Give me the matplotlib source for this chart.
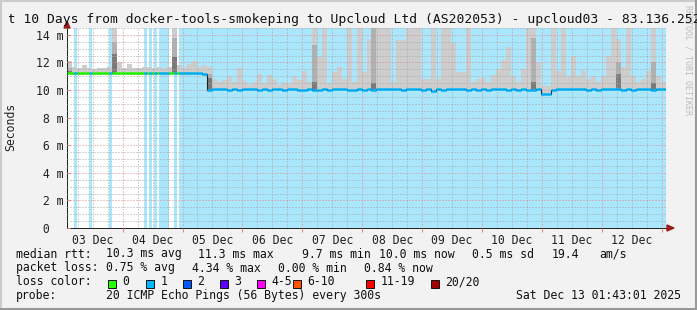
import matplotlib
matplotlib.use("Agg")
import matplotlib.pyplot as plt
import matplotlib.dates as mdates
from matplotlib.lines import Line2D
from matplotlib.patches import Polygon, Rectangle
from matplotlib.ticker import MultipleLocator, NullFormatter
from matplotlib.transforms import Bbox, TransformedBbox
import numpy as np
import pandas as pd

W, H = 697, 310
MONO = "DejaVu Sans Mono"

START = "2025-12-03 01:43:01"
END = "2025-12-13 01:43:01"

# median rtt per 2-hour bin (ms)
median_ms = [
    11.25, 11.27, 11.25, 11.26, 11.25, 11.24, 11.25, 11.27, 11.26, 11.22,
    11.25, 11.24, 11.26, 11.25, 11.24, 11.25, 11.26, 11.24, 11.25, 11.23,
    11.24, 11.22, 11.23, 11.25, 11.24, 11.25, 11.24, 11.20,
    10.02, 10.05, 10.06, 10.05, 10.04, 10.05, 10.03, 10.05, 10.06, 10.05,
    10.04, 10.05, 10.03, 10.05, 10.05, 10.04, 10.06, 10.05, 10.04, 10.02,
    10.05, 10.04, 10.03, 10.05, 10.04, 10.05, 10.06, 10.05, 10.04, 10.02,
    10.05, 10.04, 10.05, 10.03, 10.05, 10.06, 10.05, 10.08, 10.05, 10.04,
    10.05, 10.06, 10.05, 10.04, 10.05, 9.95, 10.05, 10.04, 10.05, 10.06,
    10.10, 10.05, 10.04, 10.05, 10.03, 10.05, 10.04, 10.05, 10.06, 10.05,
    10.04, 10.05, 10.04, 10.05, 10.03, 10.04, 10.05, 9.70, 9.70, 10.04,
    10.05, 10.05, 10.06, 10.05, 10.08, 10.05, 10.04, 10.05, 10.04, 10.05,
    10.06, 10.08, 10.05, 10.04, 10.05, 10.04, 10.05, 10.06, 10.05, 10.04,
    10.05, 10.05,
]

# highest ping per 2-hour bin (ms), 15 = off the top of the graph
smoke_top_ms = [
    12.1, 11.7, 11.6, 11.8, 11.6, 11.5, 11.6, 11.6, 11.7, 15, 12.0, 11.6,
    11.9, 11.6, 11.6, 11.7, 11.7, 11.6, 11.7, 11.6, 11.7, 15, 11.8, 11.6,
    11.9, 12.1, 11.7, 11.8,
    11.7, 10.8, 10.6, 10.7, 11.0, 10.6, 11.6, 10.65, 10.4, 10.6, 11.15, 10.5,
    11.1, 10.8, 10.4, 10.6, 10.5, 11.0, 10.7, 11.4, 10.6, 15, 12.4, 15,
    10.5, 11.3, 11.7, 10.8, 15,
    10.6, 15, 11.3, 13.7, 15, 15, 15, 15, 10.6, 13.6, 13.6, 14.4, 15, 15,
    10.8, 10.8, 15, 10.8, 15, 15, 13.4, 11.3, 11.3, 15, 10.6, 10.8, 10.9,
    10.6, 11.1, 11.5,
    12.2, 13.1, 11.0, 10.6, 11.5, 15, 15, 12.0, 10.3, 10.3, 15, 11.4, 15,
    11.0, 12.5, 11.0, 11.4, 10.8, 11.0, 10.6, 11.0, 12.5, 15, 13.7, 11.7,
    15, 11.0, 10.6, 10.8, 11.4, 15, 11.0, 10.6,
]

# bins with a denser (darker) core of pings
core_bins = [0, 9, 21, 28, 49, 61, 93, 110, 117]
core_mid_ms = [11.6, 13.5, 13.8, 11.2, 13.3, 15, 13.8, 12.0, 12.0]
core_dark_ms = [11.4, 12.6, 12.4, 10.9, 10.6, 10.5, 10.6, 11.2, 10.5]

# hours (from START) with packet loss; steady loss from hour 45 on
loss_hours = [3, 9, 17, 31, 33, 35, 37, 38, 39, 40, 43]
steady_loss_from_hour = 45

loss_labels = ["0", "1", "2", "3", "4-5", "6-10", "11-19", "20/20"]
loss_colors = ["#26ff00", "#00b8ff", "#0059ff", "#5e00ff",
               "#ff00ff", "#ff5500", "#ff0000", "#a00000"]
loss_box_x = [108, 146, 183, 220, 257, 293, 366, 431]

BG = "#f2f2f2"
LOSS_BG = "#aae6fc"


def fx(px):
    return px / W


def fy(py):
    return 1 - py / H


fig = plt.figure(figsize=(W / 100, H / 100), dpi=100, facecolor=BG)
ax = fig.add_axes([fx(67), fy(228), (666 - 67) / W, (228 - 28) / H])
ax.set_facecolor("white")

t0 = pd.Timestamp(START)
n_bins = len(median_ms)
x_bins = mdates.date2num(pd.date_range(t0, periods=n_bins + 1, freq="2h"))
x_hours = mdates.date2num(pd.date_range(t0, periods=2 * n_bins + 1, freq="h"))
med = np.array(median_ms)
top = np.array(smoke_top_ms)

# loss flags per hour
lost = np.zeros(2 * n_bins, dtype=bool)
lost[loss_hours] = True
lost[steady_loss_from_hour:] = True

# loss background, one span per run of lost hours
i = 0
while i < len(lost):
    if lost[i]:
        j = i
        while j < len(lost) and lost[j]:
            j += 1
        ax.axvspan(x_hours[i], x_hours[j], color=LOSS_BG, lw=0, zorder=0.5)
        i = j
    else:
        i += 1

# smoke
bw = x_bins[1] - x_bins[0]
ax.bar(x_bins[:-1], top - (med - 0.15), bottom=med - 0.15, width=bw,
       align="edge", color="#cdcdcd", lw=0, antialiased=False, zorder=1)
cb = np.array(core_bins)
ax.bar(x_bins[cb], np.array(core_mid_ms) - med[cb], bottom=med[cb], width=bw,
       align="edge", color="#b0b0b0", lw=0, antialiased=False, zorder=1.1)
ax.bar(x_bins[cb], np.array(core_dark_ms) - med[cb], bottom=med[cb], width=bw,
       align="edge", color="#7a7a7a", lw=0, antialiased=False, zorder=1.2)

# median: thin black step line under loss-coloured band
med_h = np.repeat(med, 2)
ax.step(x_hours, np.append(med_h, med_h[-1]), where="post", color="#202020",
        lw=0.8, zorder=3)
seg_colors = [loss_colors[1] if f else loss_colors[0] for f in lost]
ax.hlines(med_h, x_hours[:-1], x_hours[1:], colors=seg_colors, lw=1.9,
          zorder=3.5)

ax.set_xlim(mdates.date2num(pd.Timestamp(START)), mdates.date2num(pd.Timestamp(END)))
ax.set_ylim(0, 14.5)

# grid
ax.xaxis.set_major_locator(mdates.DayLocator())
ax.xaxis.set_minor_locator(mdates.HourLocator(byhour=[0, 6, 12, 18]))
ax.xaxis.set_major_formatter(NullFormatter())
ax.yaxis.set_minor_locator(MultipleLocator(0.5))
yt = list(range(0, 15, 2))
ax.set_yticks(yt)
ax.set_yticklabels([f"{v:2d} m" if v else " 0" for v in yt], ha="left",
                   fontfamily=MONO, fontsize=8.3, color="#222222")
ax.set_axisbelow(False)
dots = (0, (1, 2))
ax.grid(which="minor", color="#a8a8a8", linestyle=dots, lw=0.72)
ax.grid(which="major", color="#e08a8a", linestyle=dots, lw=0.72)
ax.tick_params(axis="x", which="major", length=3, color="#e08a8a", direction="out")
ax.tick_params(axis="x", which="minor", length=0)
ax.tick_params(axis="y", which="major", length=2, color="#e08a8a",
               direction="in", pad=22.3)
ax.tick_params(axis="y", which="minor", length=0)
for side in ("top", "right"):
    ax.spines[side].set_visible(False)
for side in ("left", "bottom"):
    ax.spines[side].set_color("#222222")
    ax.spines[side].set_linewidth(0.72)

# day labels sit at noon, between the midnight grid lines
sec = ax.secondary_xaxis("bottom")
sec.xaxis.set_major_locator(mdates.HourLocator(byhour=12))
sec.xaxis.set_major_formatter(mdates.DateFormatter("%d %b"))
sec.tick_params(length=0, pad=4.5, labelsize=8.3, labelcolor="#222222")
sec.spines["bottom"].set_visible(False)
plt.setp(sec.xaxis.get_majorticklabels(), fontfamily=MONO)

# axis arrows
arrow_c = "#9b1c1c"
fig.add_artist(Polygon([(fx(64), fy(28)), (fx(70), fy(28)), (fx(67), fy(21))],
                       closed=True, color=arrow_c, transform=fig.transFigure))
fig.add_artist(Polygon([(fx(667), fy(225)), (fx(667), fy(231)), (fx(674), fy(228))],
                       closed=True, color=arrow_c, transform=fig.transFigure))

# title (runs off both edges, as in the original), axis label, watermark
fig.text(fx(688), fy(60), "RRDTOOL / TOBI OETIKER", rotation=270, ha="center",
         va="center", fontfamily=MONO, fontsize=6, color="#bdbdbd")
title = fig.text(fx(-16), fy(23.5),
                 "Last 10 Days from docker-tools-smokeping to Upcloud Ltd (AS202053) - upcloud03 - 83.136.252",
                 fontfamily=MONO, fontsize=9.35, va="baseline", ha="left",
                 color="#111111")
title.set_clip_box(TransformedBbox(Bbox([[fx(9), 0], [1, 1]]), fig.transFigure))
title.set_clip_on(True)
fig.text(fx(11), fy(127), "Seconds", rotation=90, ha="center", va="center",
         fontfamily=MONO, fontsize=8.3, color="#222222")

# legend block
txt = dict(fontfamily=MONO, fontsize=8.3, va="baseline", ha="left", color="#111111")
line1 = [(16, "median rtt:"), (107, "10.3 ms avg"), (199, "11.3 ms max"),
         (302, "9.7 ms min"), (379, "10.0 ms now"), (473, "0.5 ms sd"),
         (552, "19.4"), (600, "am/s")]
line2 = [(16, "packet loss:"), (107, "0.75 % avg"), (193, "4.34 % max"),
         (279, "0.00 % min"), (365, "0.84 % now")]
for x, s in line1:
    fig.text(fx(x - 0.5), fy(257.5), s, **txt)
for x, s in line2:
    fig.text(fx(x - 0.5), fy(271.5), s, **txt)
fig.text(fx(15.5), fy(285.3), "loss color:", **txt)
for bx, lab, col in zip(loss_box_x, loss_labels, loss_colors):
    fig.add_artist(Rectangle((fx(bx), fy(288)), 8 / W, 8 / H, facecolor=col,
                             edgecolor="#111111", lw=0.7,
                             transform=fig.transFigure))
    fig.text(fx(bx + 14.5), fy(285.3), lab, **txt)
fig.text(fx(15.5), fy(299.3), "probe:", **txt)
fig.text(fx(106.5), fy(299.3), "20 ICMP Echo Pings (56 Bytes) every 300s", **txt)
fig.text(fx(680.5), fy(299.3), "Sat Dec 13 01:43:01 2025",
         **{**txt, "ha": "right"})

# shaded frame
fig.add_artist(Line2D([0, 1], [fy(1), fy(1)], color="#cbcbcb", lw=1.5,
                      transform=fig.transFigure))
fig.add_artist(Line2D([fx(1), fx(1)], [0, 1], color="#cbcbcb", lw=1.5,
                      transform=fig.transFigure))
fig.add_artist(Line2D([0, 1], [fy(309), fy(309)], color="#999999", lw=1.5,
                      transform=fig.transFigure))
fig.add_artist(Line2D([fx(696), fx(696)], [0, 1], color="#999999", lw=1.5,
                      transform=fig.transFigure))

fig.savefig("out.png", dpi=100, facecolor=BG)
